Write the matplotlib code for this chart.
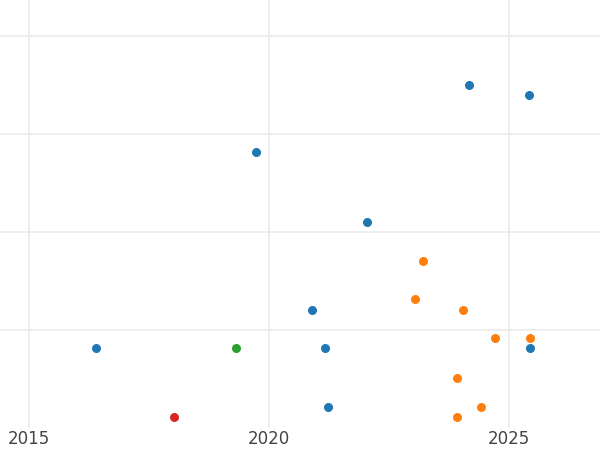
import matplotlib
matplotlib.use("Agg")
import matplotlib.pyplot as plt

# values (x = year, y = arbitrary units, no y labels shown)
blue_x = [2016.40, 2019.73, 2020.90, 2021.17, 2021.23, 2022.04, 2024.17, 2025.42, 2025.44]
blue_y = [0.81, 2.81, 1.20, 0.81, 0.21, 2.10, 3.50, 3.40, 0.81]
orange_x = [2023.21, 2023.04, 2024.04, 2024.71, 2025.44, 2023.92, 2024.42, 2023.92]
orange_y = [1.70, 1.31, 1.20, 0.91, 0.91, 0.51, 0.21, 0.11]
green_x = [2019.31]
green_y = [0.81]
red_x = [2018.02]
red_y = [0.11]

fig = plt.figure(figsize=(6, 4.5), dpi=100)
ax = fig.add_axes([0, 0.05, 1, 0.95])

ax.scatter(blue_x, blue_y, s=30, color="#1f77b4", zorder=3)
ax.scatter(orange_x, orange_y, s=30, color="#ff7f0e", zorder=3)
ax.scatter(green_x, green_y, s=30, color="#2ca02c", zorder=3)
ax.scatter(red_x, red_y, s=30, color="#d62728", zorder=3)

ax.set_xlim(2014.4, 2026.9)
ax.set_ylim(0.0, 1 + 330 / 98)
ax.set_xticks([2015, 2020, 2025])
ax.set_yticks([1, 2, 3, 4])
ax.set_yticklabels([])
ax.tick_params(axis="both", length=0, labelsize=12, colors="#444444")
ax.tick_params(axis="x", pad=2)
ax.grid(color="#ebebeb", lw=1.2)
ax.set_axisbelow(True)
for s in ax.spines.values():
    s.set_visible(False)

fig.savefig("out.png", dpi=100)
